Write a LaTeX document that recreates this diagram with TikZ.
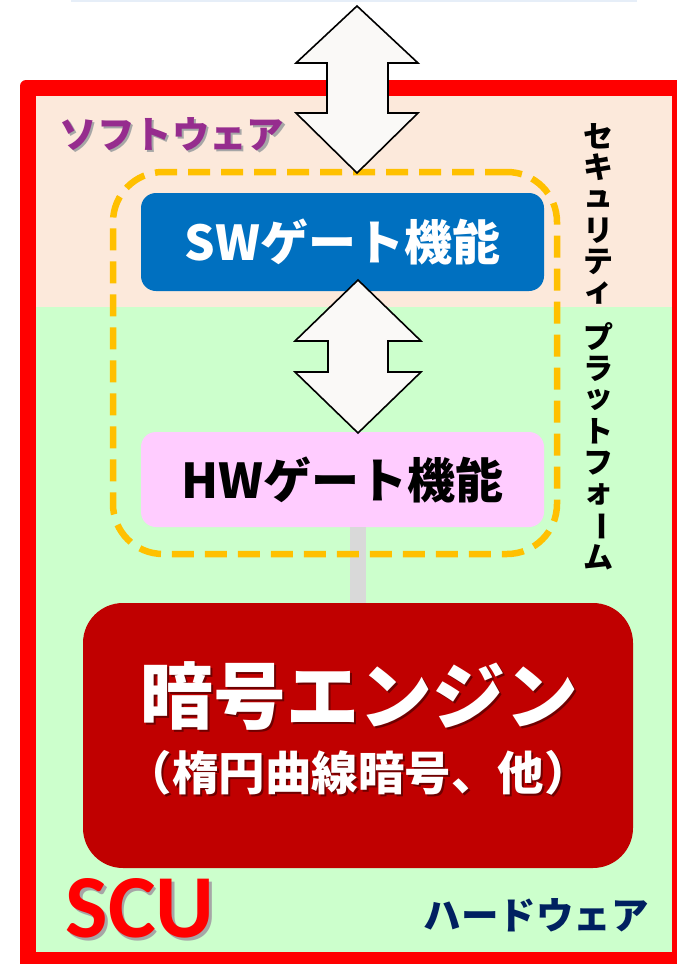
\documentclass[tikz,border=0pt]{standalone}
\usepackage{fontspec}
\setmainfont{Noto Sans CJK JP}
\newfontfamily\scufont{Carlito}
\usetikzlibrary{calc}
\definecolor{framered}{HTML}{FF0000}
\definecolor{peach}{HTML}{FCE9DB}
\definecolor{lgreen}{HTML}{CCFFCC}
\definecolor{swblue}{HTML}{0070C0}
\definecolor{hwpink}{HTML}{FFCCFF}
\definecolor{engred}{HTML}{C00000}
\definecolor{gold}{HTML}{FFC000}
\definecolor{softpurple}{HTML}{962C8E}
\definecolor{navy}{HTML}{002060}
\definecolor{arrowfill}{HTML}{FAF9F7}
\definecolor{topline}{HTML}{E6EEF8}
\definecolor{connector}{HTML}{D9D9D9}
\definecolor{engshadow}{HTML}{6E0000}
\newcommand{\shadtext}[4]{\makebox[0pt][l]{\hspace*{#2}\raisebox{-#3}{\color{#1}#4}}#4}
\tikzset{
  gatebox/.style={rounded corners=15pt, inner sep=0pt, minimum width=403pt, font=\bfseries\fontsize{48}{52}\selectfont},
  blockarrow/.style={draw=black, line width=1.6pt, fill=arrowfill, line join=miter},
  vchar/.style={inner sep=0pt, font=\bfseries\fontsize{30}{32}\selectfont, text=black},
  label/.style={inner sep=0pt},
}
\begin{document}
\begin{tikzpicture}[x=1pt,y=-1pt]
\useasboundingbox (0,0) rectangle (677,964);
% faint top element
\fill[topline] (71,-2) rectangle (637,2);
% SCU frame
\fill[framered, rounded corners=6pt] (20,80) rectangle (700,985);
\fill[peach] (36,96) rectangle (672,307);
\fill[lgreen] (36,307) rectangle (672,952);
% labels
\node[label, text=softpurple, font=\bfseries\fontsize{37.5}{40}\selectfont] (soft) at (172,135) {\shadtext{black!35}{2pt}{2pt}{ソフトウェア}};
\node[label, text=navy, font=\bfseries\fontsize{37.5}{40}\selectfont] (hard) at (536,915) {ハードウェア};
\node[label, text=framered, font=\scufont\bfseries\fontsize{90}{92}\selectfont] (scu) at (140,910) {\shadtext{black!35}{2.5pt}{2.5pt}{SCU}};
% vertical text
\foreach \c/\y [count=\i] in {セ/136,キ/167.5,ュ/199,リ/230.5,テ/262,ィ/293.5,プ/337,ラ/368.5,ッ/400,ト/431.5,フ/463,ォ/494.5,ム/557.5}
  \node[vchar] (v\i) at (598,\y) {\c};
\node[vchar, rotate=-90] (vbar) at (598,526) {ー};
% boxes
\node[gatebox, fill=swblue, text=white, minimum height=98pt] (sw) at (342.5,242) {SWゲート機能};
\node[gatebox, fill=hwpink, text=black, minimum height=95pt] (hw) at (342.5,479.5) {HWゲート機能};
\node[fill=engred, rounded corners=40pt, minimum width=550pt, minimum height=265pt, inner sep=0pt] (engine) at (358,735.5) {};
% gray connector
\draw[connector, line width=16pt] (hw.south -| 358,0) -- (engine.north -| 358,0);
% dashed platform box
\node[draw=gold, line width=6.5pt, dash pattern=on 22pt off 11pt, rounded corners=50pt, minimum width=444pt, minimum height=382pt, inner sep=0pt] (gate) at (335,363) {};
% engine texts
\node[label, text=white, font=\bfseries\fontsize{73}{76}\selectfont] (engt1) at (359,697) {\shadtext{engshadow}{2pt}{2pt}{暗号エンジン}};
\node[label, text=white, font=\bfseries\fontsize{46.5}{48}\selectfont] (engt2) at (358,774) {\shadtext{engshadow}{2pt}{2pt}{（楕円曲線暗号、他）}};
% arrows
\coordinate (t1) at (357,6);
\coordinate (b1) at (357,173);
\draw[blockarrow] (t1) -- ($(t1)+(61,57)$) -- ($(t1)+(31,57)$) -- ($(b1)+(31,-60)$) -- ($(b1)+(61,-60)$) -- (b1)
  -- ($(b1)+(-61,-60)$) -- ($(b1)+(-30,-60)$) -- ($(t1)+(-30,57)$) -- ($(t1)+(-61,57)$) -- cycle;
\coordinate (t2) at (358,280);
\coordinate (b2) at (358,433);
\draw[blockarrow] (t2) -- ($(t2)+(63,61)$) -- ($(t2)+(30,61)$) -- ($(b2)+(30,-61)$) -- ($(b2)+(63,-61)$) -- (b2)
  -- ($(b2)+(-63,-61)$) -- ($(b2)+(-30,-61)$) -- ($(t2)+(-30,61)$) -- ($(t2)+(-63,61)$) -- cycle;
\end{tikzpicture}
\end{document}
